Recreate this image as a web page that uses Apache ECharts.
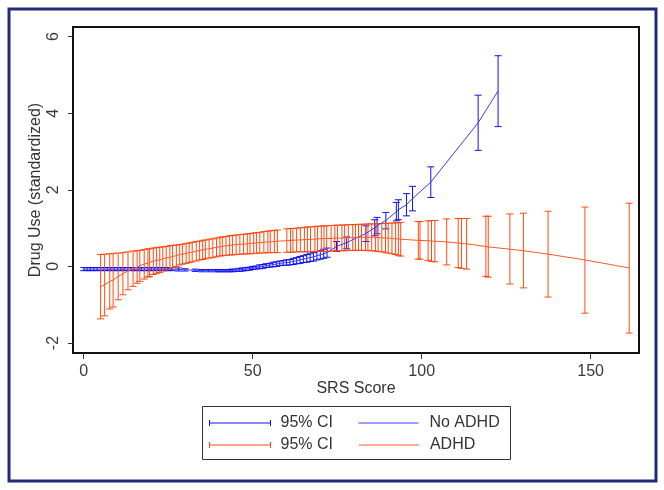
<!DOCTYPE html>
<html><head><meta charset="utf-8">
<script src="https://cdn.jsdelivr.net/npm/echarts@6/dist/echarts.min.js"></script>
<style>html,body{margin:0;padding:0;background:#fff}#c{width:664px;height:490px}</style>
</head><body><div id="c"></div><script>
// ---- data ----
const xTicks = [0, 50, 100, 150];
const yTicks = [-2, 0, 2, 4, 6];

// No ADHD (blue): x, predicted value, 95% CI low / high
const blueX   = [0,1,2,3,4,5,6,7,8,9,10,11,12,13,14,15,16,17,18,19,20,21,22,23,24,25,26,28,30,33,35,37,39,40,41,42,43,44,45,46,47,48,49,50,51,52,53,54,55,56,57,58,59,60,61,62,63,64,65,66,67,68,69,70,71,72,74.8,77.8,83.5,86.1,86.8,89.4,92.5,93.1,95.5,97.3,102.7,116.7,122.6];
const blueMid = [-0.07,-0.07,-0.07,-0.07,-0.07,-0.07,-0.07,-0.07,-0.07,-0.07,-0.07,-0.07,-0.07,-0.07,-0.07,-0.07,-0.07,-0.07,-0.07,-0.07,-0.07,-0.07,-0.07,-0.07,-0.07,-0.07,-0.07,-0.08,-0.09,-0.10,-0.11,-0.11,-0.11,-0.11,-0.11,-0.11,-0.11,-0.10,-0.10,-0.09,-0.08,-0.07,-0.06,-0.04,-0.03,-0.01,0.00,0.02,0.03,0.05,0.06,0.08,0.09,0.10,0.11,0.13,0.15,0.17,0.19,0.21,0.23,0.25,0.28,0.30,0.33,0.36,0.52,0.62,0.86,1.01,1.06,1.20,1.43,1.48,1.61,1.77,2.20,3.75,4.58];
const blueLo  = [-0.11,-0.11,-0.11,-0.11,-0.11,-0.11,-0.11,-0.11,-0.11,-0.11,-0.11,-0.11,-0.11,-0.11,-0.11,-0.11,-0.11,-0.11,-0.11,-0.11,-0.11,-0.11,-0.11,-0.11,-0.11,-0.11,-0.11,-0.12,-0.12,-0.13,-0.14,-0.14,-0.14,-0.14,-0.14,-0.14,-0.14,-0.14,-0.13,-0.13,-0.12,-0.11,-0.10,-0.08,-0.07,-0.06,-0.05,-0.03,-0.02,-0.01,0.00,0.02,0.03,0.03,0.04,0.05,0.07,0.08,0.10,0.11,0.13,0.14,0.17,0.19,0.21,0.24,0.39,0.46,0.65,0.80,0.85,0.98,1.19,1.22,1.32,1.45,1.80,3.03,3.65];
const blueHi  = [-0.03,-0.03,-0.03,-0.03,-0.03,-0.03,-0.03,-0.03,-0.03,-0.03,-0.03,-0.03,-0.03,-0.03,-0.03,-0.03,-0.03,-0.03,-0.03,-0.03,-0.03,-0.03,-0.03,-0.03,-0.03,-0.03,-0.03,-0.04,-0.06,-0.07,-0.08,-0.08,-0.08,-0.08,-0.08,-0.08,-0.08,-0.07,-0.07,-0.05,-0.04,-0.03,-0.02,0.00,0.01,0.04,0.05,0.07,0.08,0.11,0.12,0.14,0.15,0.17,0.18,0.21,0.23,0.26,0.28,0.31,0.33,0.36,0.39,0.41,0.45,0.48,0.65,0.77,1.06,1.22,1.28,1.41,1.67,1.74,1.90,2.09,2.60,4.47,5.50];

// ADHD (orange-red): x, predicted value, 95% CI low / high
const redX   = [5.0,6.2,7.7,8.7,10.2,11.6,13.1,14.6,15.8,16.6,17.9,19.0,19.5,20.6,21.5,22.5,23.4,24.4,25.5,26.3,27.4,28.4,29.2,30.3,31.2,32.1,33.3,34.3,35.2,36.0,37.1,38.2,39.3,40.3,41.0,42.1,43.2,44.0,45.1,46.2,47.3,48.4,49.2,50.3,51.1,52.1,53.3,54.5,55.2,56.4,57.3,60.1,61.2,61.9,63.0,64.1,65.3,66.2,67.1,68.4,69.2,70.3,71.1,71.9,73.2,74.3,75.1,76.4,77.2,78.3,79.6,80.4,81.3,82.2,83.4,84.1,85.2,86.3,87.1,88.2,89.3,90.1,91.2,92.3,93.1,93.8,99.0,99.5,101.9,102.9,103.9,107.4,110.8,111.8,113.3,119.0,119.7,126.1,130.1,137.4,148.3,161.4];
const redMid = [-0.53,-0.48,-0.39,-0.36,-0.26,-0.19,-0.12,-0.06,-0.02,0.02,0.06,0.09,0.10,0.14,0.16,0.17,0.20,0.22,0.24,0.26,0.28,0.31,0.32,0.34,0.36,0.37,0.40,0.42,0.43,0.45,0.46,0.48,0.50,0.51,0.52,0.54,0.55,0.56,0.57,0.58,0.58,0.59,0.60,0.61,0.61,0.62,0.63,0.64,0.64,0.65,0.66,0.67,0.68,0.68,0.69,0.69,0.70,0.70,0.71,0.71,0.72,0.72,0.73,0.73,0.73,0.74,0.74,0.74,0.75,0.75,0.75,0.76,0.76,0.76,0.76,0.76,0.76,0.76,0.75,0.75,0.74,0.74,0.73,0.72,0.72,0.71,0.68,0.68,0.67,0.66,0.66,0.64,0.61,0.60,0.59,0.52,0.51,0.45,0.41,0.32,0.17,-0.04];
const redLo  = [-1.37,-1.29,-1.11,-1.06,-0.87,-0.74,-0.61,-0.52,-0.44,-0.39,-0.33,-0.28,-0.26,-0.21,-0.18,-0.16,-0.12,-0.09,-0.06,-0.03,0.00,0.04,0.06,0.08,0.10,0.12,0.14,0.17,0.18,0.20,0.22,0.23,0.25,0.27,0.28,0.29,0.30,0.30,0.31,0.32,0.32,0.33,0.33,0.34,0.34,0.35,0.35,0.36,0.36,0.36,0.36,0.37,0.37,0.37,0.38,0.38,0.38,0.38,0.38,0.39,0.39,0.39,0.39,0.39,0.40,0.40,0.41,0.41,0.41,0.42,0.42,0.42,0.42,0.42,0.42,0.41,0.41,0.40,0.39,0.38,0.36,0.35,0.33,0.31,0.29,0.27,0.19,0.19,0.16,0.13,0.12,0.04,-0.03,-0.05,-0.07,-0.26,-0.28,-0.46,-0.56,-0.80,-1.22,-1.74];
const redHi  = [0.31,0.32,0.33,0.34,0.35,0.36,0.38,0.40,0.41,0.42,0.44,0.46,0.46,0.48,0.49,0.50,0.51,0.52,0.54,0.55,0.56,0.57,0.58,0.60,0.61,0.63,0.65,0.66,0.68,0.69,0.71,0.72,0.74,0.76,0.77,0.78,0.80,0.81,0.82,0.83,0.84,0.85,0.86,0.87,0.88,0.89,0.91,0.92,0.93,0.94,0.95,0.98,0.99,0.99,1.00,1.01,1.02,1.03,1.03,1.04,1.05,1.05,1.06,1.06,1.07,1.07,1.08,1.08,1.08,1.09,1.09,1.09,1.10,1.10,1.10,1.11,1.11,1.11,1.12,1.12,1.12,1.13,1.13,1.14,1.14,1.15,1.17,1.17,1.19,1.20,1.20,1.24,1.25,1.25,1.25,1.31,1.31,1.37,1.39,1.44,1.55,1.65];

const BLUE = '#1010f0';
const BLUE_LINE = '#3a3aff';
const RED = '#ff4a10';
const RED_LINE = '#ff5a2a';
const FONT = "'Liberation Sans', Arial, sans-serif";

function ciData(x, lo, hi) { return x.map((v, i) => [v, lo[i], hi[i]]); }
function lineData(x, m) { return x.map((v, i) => [v, m[i]]); }
function ciRender(color) {
  return function (params, api) {
    const x = api.value(0);
    const p1 = api.coord([x, api.value(1)]);
    const p2 = api.coord([x, api.value(2)]);
    const hw = 3.5;
    const style = { stroke: color, lineWidth: 1, fill: null };
    return { type: 'group', children: [
      { type: 'line', shape: { x1: p1[0], y1: p1[1], x2: p2[0], y2: p2[1] }, style: style },
      { type: 'line', shape: { x1: p1[0] - hw, y1: p1[1], x2: p1[0] + hw, y2: p1[1] }, style: style },
      { type: 'line', shape: { x1: p2[0] - hw, y1: p2[1], x2: p2[0] + hw, y2: p2[1] }, style: style }
    ]};
  };
}
const ciIcon = 'path://M0,0 M0,2 L0,8 M0,5 L61,5 M61,2 L61,8 M66,10';
const lineIcon = 'path://M0,0 M0,5 L60,5 M66,10';

const chart = echarts.init(document.getElementById('c'), null, { renderer: 'canvas' });
const legendBase = {
  left: 209, itemWidth: 66, itemHeight: 10, itemGap: 25, padding: 0,
  selectedMode: false,
  textStyle: { fontFamily: FONT, fontSize: 16, color: '#333', lineHeight: 18 }
};
chart.setOption({
  animation: false,
  backgroundColor: '#fff',
  grid: { left: 73, right: 25, top: 27, bottom: 137, show: true, borderColor: '#111', borderWidth: 2, backgroundColor: '#fff', containLabel: false, outerBoundsMode: 'none' },
  xAxis: {
    type: 'value', min: -3.17, max: 164.3,
    name: 'SRS Score', nameLocation: 'middle', nameGap: 28, nameMoveOverlap: false,
    nameTextStyle: { fontFamily: FONT, fontSize: 16, color: '#333' },
    axisLine: { show: false, onZero: false },
    axisTick: { show: true, inside: false, length: 6, customValues: xTicks, lineStyle: { color: '#333', width: 1 } },
    axisLabel: { customValues: xTicks, margin: 11, fontFamily: FONT, fontSize: 16, color: '#3a3a3a' },
    splitLine: { show: false }
  },
  yAxis: {
    type: 'value', min: -2.26, max: 6.25,
    name: 'Drug Use (standardized)', nameLocation: 'middle', nameGap: 29, nameRotate: 90, nameMoveOverlap: false,
    nameTextStyle: { fontFamily: FONT, fontSize: 16, color: '#333' },
    axisLine: { show: false, onZero: false },
    axisTick: { show: true, inside: false, length: 5, customValues: yTicks, lineStyle: { color: '#333', width: 1 } },
    axisLabel: { customValues: yTicks, rotate: 90, margin: 11, fontFamily: FONT, fontSize: 16, color: '#3a3a3a' },
    splitLine: { show: false }
  },
  legend: [
    Object.assign({}, legendBase, { top: 414, data: [
      { name: '95% CI', icon: ciIcon, itemStyle: { color: 'rgba(0,0,0,0)', borderColor: BLUE, borderWidth: 1 } },
      { name: 'No ADHD', icon: lineIcon, itemStyle: { color: 'rgba(0,0,0,0)', borderColor: BLUE_LINE, borderWidth: 1 } } ] }),
    Object.assign({}, legendBase, { top: 436, itemGap: 21, data: [
      { name: '95% CI ', icon: ciIcon, itemStyle: { color: 'rgba(0,0,0,0)', borderColor: RED, borderWidth: 1 } },
      { name: 'ADHD', icon: lineIcon, itemStyle: { color: 'rgba(0,0,0,0)', borderColor: RED_LINE, borderWidth: 1 } } ] })
  ],
  graphic: [
    { type: 'rect', silent: true, shape: { x: 9, y: 9, width: 647, height: 472 }, style: { fill: 'none', stroke: '#1f2a78', lineWidth: 3 } },
    { type: 'rect', silent: true, shape: { x: 202.5, y: 406.5, width: 308, height: 53 }, style: { fill: 'none', stroke: '#333', lineWidth: 1 } }
  ],
  series: [
    { name: '95% CI', type: 'custom', renderItem: ciRender(BLUE), clip: true,
      itemStyle: { color: BLUE }, encode: { x: 0, y: [1, 2] },
      data: ciData(blueX, blueLo, blueHi) },
    { name: 'No ADHD', type: 'line', symbol: 'none', showSymbol: false, clip: true,
      lineStyle: { color: BLUE_LINE, width: 1 }, itemStyle: { color: BLUE_LINE },
      data: lineData(blueX, blueMid) },
    { name: '95% CI ', type: 'custom', renderItem: ciRender(RED), clip: true,
      itemStyle: { color: RED }, encode: { x: 0, y: [1, 2] },
      data: ciData(redX, redLo, redHi) },
    { name: 'ADHD', type: 'line', symbol: 'none', showSymbol: false, clip: true,
      lineStyle: { color: RED_LINE, width: 1 }, itemStyle: { color: RED_LINE },
      data: lineData(redX, redMid) }
  ]
});
</script></body></html>
